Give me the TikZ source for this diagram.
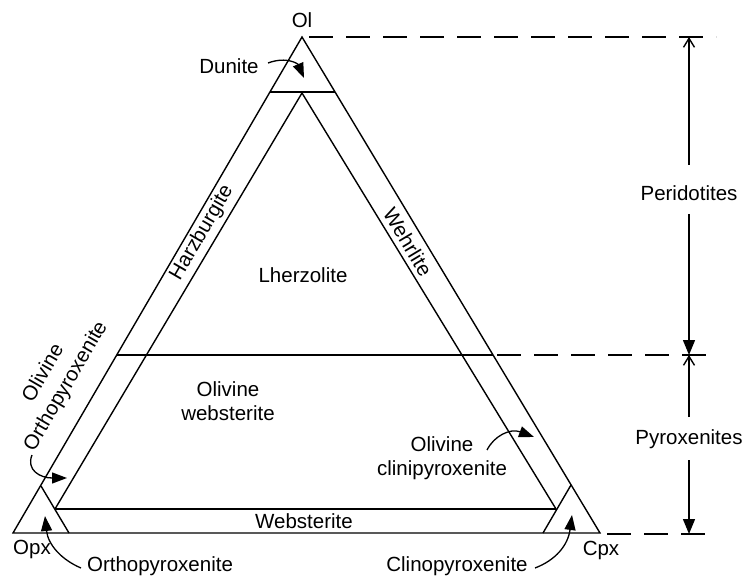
\documentclass[tikz,border=0pt]{standalone}
\usepackage{fontspec}
\setmainfont{Liberation Sans}
\usetikzlibrary{arrows.meta}
\begin{document}
\begin{tikzpicture}[x=1pt,y=-1pt,
  lbl/.style={font=\fontsize{20.5}{24}\selectfont, inner sep=0pt},
  edge/.style={line width=1.4pt},
  heavy/.style={line width=2.8pt},
  dline/.style={line width=1.6pt, dash pattern=on 24pt off 13pt},
  callout/.style={line width=1.3pt, -{Triangle[length=15pt,width=11pt]}},
  upopen/.style={line width=1.4pt, -{Straight Barb[length=9pt,width=11pt]}},
  downfill/.style={line width=1.4pt, -{Triangle[length=15pt,width=12pt]}}
  ]
\useasboundingbox (0,0) rectangle (744,577);
% main vertices
\coordinate (opx) at (13,533);
\coordinate (cpx) at (600,533);
\coordinate (ol) at (302,37);
% Ol 90 line
\coordinate (d90l) at (270,92);
\coordinate (d90r) at (335,92);
% Ol 40 line
\coordinate (l40) at (117,355);
\coordinate (r40) at (493,355);
% inner triangle
\coordinate (i1) at (302,93);
\coordinate (i2) at (55,509);
\coordinate (i3) at (556,509);
% corner lines
\coordinate (opxb) at (69,533);
\coordinate (opxa) at (41,486);
\coordinate (cpxb) at (543,533);
\coordinate (cpxa) at (571,485);

\draw[edge, line join=miter] (opx) -- (cpx) -- (ol) -- cycle;
\draw[edge] (i2) -- (i1) -- (i3);
\draw[edge] (i2) -- (i3);
\draw[edge] (opxb) -- (opxa);
\draw[edge] (cpxb) -- (cpxa);
\draw[heavy] (d90l) -- (d90r);
\draw[heavy] (l40) -- (r40);

% dashed guide lines
\coordinate (dt0) at (309,37);
\coordinate (dt1) at (716,37);
\coordinate (dm0) at (497,355);
\coordinate (dm1) at (716,355);
\coordinate (db0) at (607,534);
\coordinate (db1) at (716,534);
\draw[dline] (dt0) -- (dt1);
\draw[dline] (dm0) -- (dm1);
\draw[dline] (db0) -- (db1);

% labels
\node[lbl] (tOl) at (302,20) {Ol};
\node[lbl] (tOpx) at (32,549) {Opx};
\node[lbl] (tCpx) at (601,550) {Cpx};
\node[lbl] (tDun) at (229,66) {Dunite};
\node[lbl] (tLhz) at (303,275) {Lherzolite};
\node[lbl, align=center] (tOW) at (228,401) {Olivine\\websterite};
\node[lbl, align=center] (tOC) at (442,458) {Olivine\\clinipyroxenite};
\node[lbl] (tWeb) at (304,521) {Websterite};
\node[lbl] (tOrtho) at (160,566) {Orthopyroxenite};
\node[lbl] (tClino) at (457,566) {Clinopyroxenite};
\node[lbl, rotate=59.8] (tHz) at (202,233) {Harzburgite};
\node[lbl, rotate=-59] (tWh) at (408,242) {Wehrlite};
\node[lbl, rotate=59.8, align=center, font=\fontsize{20.5}{26}\selectfont] (tOO) at (55,380) {Olivine\\Orthopyroxenite};
\node[lbl] (tPer) at (689,193) {Peridotites};
\node[lbl] (tPyr) at (689,439) {Pyroxenites};

% callout arrows
\coordinate (dunS) at (268,63);
\coordinate (dunT) at (304,78);
\draw[callout] (dunS) .. controls (287,56) and (298,64) .. (dunT);
\coordinate (ooS) at (32,455);
\coordinate (ooT) at (67,478);
\draw[callout] (ooS) .. controls (26,470) and (40,478) .. (ooT);
\coordinate (orS) at (81,568);
\coordinate (orT) at (45,516);
\draw[callout] (orS) .. controls (62,560) and (48,545) .. (orT);
\coordinate (clS) at (535,568);
\coordinate (clT) at (572,515);
\draw[callout] (clS) .. controls (556,560) and (568,545) .. (clT);
\coordinate (ocS) at (487,450);
\coordinate (ocT) at (534,437);
\draw[callout] (ocS) .. controls (494,436) and (510,428) .. (ocT);

% range arrows
\coordinate (perTop) at (689,37);
\coordinate (perMid) at (689,355);
\coordinate (pyrBot) at (689,534);
\coordinate (perA) at (689,165);
\coordinate (perB) at (689,214);
\coordinate (pyrA) at (689,417);
\coordinate (pyrB) at (689,460);
\draw[upopen] (perA) -- (perTop);
\draw[downfill] (perB) -- (perMid);
\draw[upopen] (pyrA) -- (perMid);
\draw[downfill] (pyrB) -- (pyrBot);
\end{tikzpicture}
\end{document}
